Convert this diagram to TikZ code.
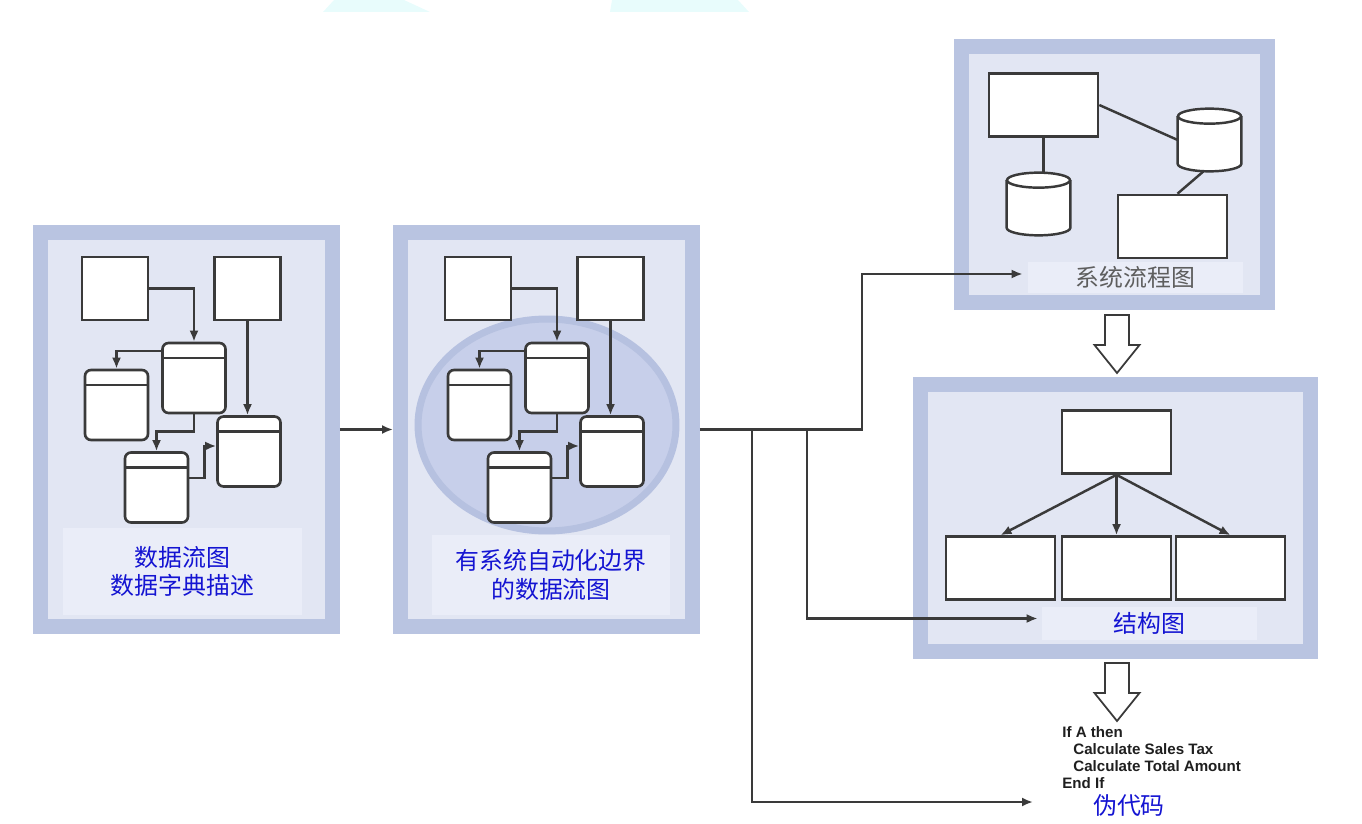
\documentclass[tikz,border=0pt]{standalone}
\usepackage{fontspec}
\usepackage{tikz}
\usetikzlibrary{positioning,shapes.geometric,arrows.meta}
\newfontfamily\cjk{Noto Sans CJK SC}
\newfontfamily\pcfont{Liberation Sans}

\definecolor{linecol}{HTML}{3A3A3A}
\definecolor{framecol}{HTML}{B9C4E1}
\definecolor{innercol}{HTML}{E2E6F3}
\definecolor{labelbg}{HTML}{EAEDF8}
\definecolor{bndfill}{HTML}{C7CFEA}
\definecolor{bndring}{HTML}{B6C1E0}
\definecolor{txtblue}{HTML}{1414D2}
\definecolor{txtgray}{HTML}{5E5E5E}
\definecolor{wmark}{HTML}{E8FCFC}

\tikzset{
  panel/.style={rectangle, draw=framecol, line width=0.3cm, fill=innercol, inner sep=0},
  textbg/.style={rectangle, fill=labelbg, inner sep=0, align=center},
  ext/.style={rectangle, draw=linecol, line width=1.5pt, fill=white, inner sep=0,
    minimum width=1.32cm, minimum height=1.26cm},
  store/.style={rectangle, rounded corners=0.12cm, draw=linecol, line width=1.5pt, fill=white,
    inner sep=0, minimum width=1.26cm, minimum height=1.4cm,
    path picture={\draw[linecol, line width=1.3pt]
      ([yshift=-0.3cm]path picture bounding box.north west) --
      ([yshift=-0.3cm]path picture bounding box.north east);}},
  procbox/.style={rectangle, draw=linecol, line width=1.5pt, fill=white, inner sep=0,
    minimum width=2.18cm, minimum height=1.26cm},
  drum/.style={rectangle, inner sep=0, minimum width=1.26cm, minimum height=1.24cm},
  link/.style={draw=linecol, line width=1.4pt},
  flow/.style={link, -{Latex[length=0.22cm,width=0.18cm]}},
  cjktext/.style={font=\cjk\fontsize{13.6}{16.4}\selectfont},
  hollowdown/.pic={\draw[linecol, line width=1pt, fill=white, line join=miter]
    (-12,0) -- (12,0) -- (12,30) -- (22.5,30) -- (0,58) -- (-22.5,30) -- (-12,30) -- cycle;}
}

% outline of a storage drum over a drum node
\newcommand\drumat[1]{%
  \draw[link, fill=white] ([yshift=-0.15cm]#1.north west) -- ([yshift=0.15cm]#1.south west)
    .. controls ([yshift=0.067cm]#1.south west) and ([xshift=-0.348cm]#1.south) .. (#1.south)
    .. controls ([xshift=0.348cm]#1.south) and ([yshift=0.067cm]#1.south east) .. ([yshift=0.15cm]#1.south east)
    -- ([yshift=-0.15cm]#1.north east);
  \draw[link, fill=white] ([yshift=-0.15cm]#1.north) ellipse [x radius=0.63cm, y radius=0.15cm];}

\begin{document}
\begin{tikzpicture}[x=0.02cm, y=-0.02cm]
  \useasboundingbox (0,0) rectangle (1362,824);

  % faint background shapes at the top
  \fill[wmark] (334,0) -- (404,0) -- (430,12) -- (323,12) -- cycle;
  \fill[wmark] (612,0) -- (738,0) -- (749,12) -- (610,12) -- cycle;

  % panels
  \node[panel, minimum width=5.84cm, minimum height=7.88cm] (p1) at (186.5,429.5) {};
  \node[panel, minimum width=5.84cm, minimum height=7.88cm] (p2) at (546.5,429.5) {};
  \node[panel, minimum width=6.14cm, minimum height=5.12cm] (p3) at (1114.5,174.5) {};
  \node[panel, minimum width=7.8cm, minimum height=5.34cm] (p4) at (1115.5,518) {};

  % labels
  \node[textbg, cjktext, text=txtblue, minimum width=4.78cm, minimum height=1.74cm] (t1)
    at (182.5,571.5) {数据流图\\数据字典描述};
  \node[textbg, cjktext, text=txtblue, minimum width=4.76cm, minimum height=1.6cm] (t2)
    at (551,575) {有系统自动化边界\\的数据流图};
  \node[textbg, cjktext, text=txtgray, minimum width=4.3cm, minimum height=0.62cm] (t3)
    at (1135.5,277.5) {系统流程图};
  \node[textbg, cjktext, text=txtblue, minimum width=4.3cm, minimum height=0.66cm] (t4)
    at (1149.5,623.5) {结构图};

  % automation boundary
  \node[ellipse, draw=bndring, line width=0.14cm, fill=bndfill, inner sep=0,
    minimum width=5.16cm, minimum height=4.24cm] (bnd) at (547,425) {};

  % data flow diagrams
  \foreach \i/\sx in {1/0,2/363} {
    \begin{scope}[shift={(\sx,0)}]
      \node[ext] (a\i) at (115,288.5) {};
      \node[ext] (b\i) at (247.5,288.5) {};
      \node[store] (c\i) at (194,378) {};
      \node[store] (d\i) at (116.5,405) {};
      \node[store] (e\i) at (249,451.5) {};
      \node[store] (f\i) at (156.5,487.5) {};

      \draw[flow] (a\i.east) -| (c\i.north);
      \draw[flow] ([yshift=0.54cm]c\i.west) -| (d\i.north);
      \draw[flow] (b\i.south) -- (b\i.south |- e\i.north);
      \draw[flow] (c\i.south) -- ++(0,17) -| (f\i.north);
      \draw[flow] ([yshift=0.19cm]f\i.east) -- ++(15,0) |- ([yshift=0.11cm]e\i.west);
    \end{scope}
  }

  % system flowchart
  \node[procbox] (r1) at (1043.5,105) {};
  \node[procbox] (r2) at (1172.5,226.5) {};
  \node[drum] (s1) at (1038.5,204) {};
  \node[drum] (s2) at (1209.5,140) {};
  \drumat{s1}
  \drumat{s2}
  \draw[link] (r1.south) -- (r1.south |- s1.north);
  \draw[link] (r1.east) -- (s2.west);
  \draw[link] ([xshift=-0.12cm]s2.south) -- ([xshift=0.1cm]r2.north);

  % structure chart
  \node[procbox] (m0) at (1116.5,442) {};
  \node[procbox] (m1) at (1000.5,568) {};
  \node[procbox] (m2) at (1116.5,568) {};
  \node[procbox] (m3) at (1230.5,568) {};
  \foreach \k in {1,2,3}
    \draw[flow] (m0.south) -- (m\k.north);

  % pseudocode
  \node[anchor=west, align=left, inner sep=0, text=black!88,
    font=\pcfont\bfseries\fontsize{8.6}{9.7}\selectfont] (code) at (1062,757.5)
    {If A then\\\hspace*{0.22cm}Calculate Sales Tax\\\hspace*{0.22cm}Calculate Total Amount\\End If};
  \node[cjktext, text=txtblue, inner sep=0] (pcl) at (1129,805) {伪代码};

  % hollow arrows
  \pic at (1117,315) {hollowdown};
  \pic at (1117,663) {hollowdown};

  % connectors
  \coordinate (jn) at (862,429.5);
  \coordinate (jb) at (807,429.5);
  \coordinate (ja) at (752,429.5);
  \coordinate (pend) at (1033,802);
  \draw[flow] (p1.east) -- (p2.west);
  \draw[flow, shorten >=0.1cm] (p2.east) -- (jn) |- ([yshift=0.07cm]t3.west);
  \draw[flow, shorten >=0.08cm] (jb) |- ([yshift=0.1cm]t4.west);
  \draw[flow] (ja) |- (pend);
\end{tikzpicture}
\end{document}
